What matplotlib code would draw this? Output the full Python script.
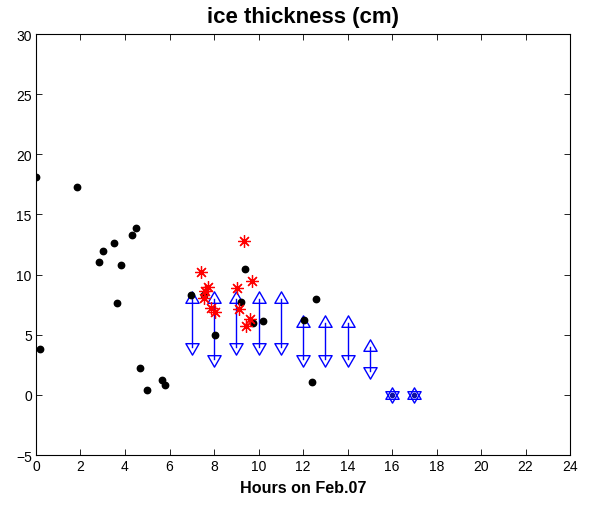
import matplotlib
matplotlib.use("Agg")
import matplotlib.pyplot as plt
from matplotlib.path import Path
import numpy as np

plt.rcParams['font.family'] = ['Liberation Sans', 'DejaVu Sans']

# Point measurements of ice thickness (black dots)
obs_hours = [0.0, 0.18, 1.85, 2.84, 3.02, 3.51, 3.65, 3.83, 4.32, 4.5,
             4.68, 5.0, 5.68, 5.8, 6.98, 7.57, 8.06, 9.23, 9.4, 9.74,
             10.22, 12.03, 12.4, 12.57]
obs_thick = [18.1, 3.8, 17.3, 11.05, 12.0, 12.6, 7.6, 10.8, 13.3, 13.9,
             2.2, 0.4, 1.2, 0.85, 8.3, 8.3, 5.0, 7.7, 10.45, 5.95,
             6.15, 6.26, 1.1, 8.0]

# Second set of measurements (red asterisks)
star_hours = [9.37, 7.43, 9.7, 7.75, 7.6, 7.53, 9.04, 7.87, 8.04, 9.11,
              9.6, 9.42]
star_thick = [12.8, 10.2, 9.5, 8.95, 8.65, 8.05, 8.87, 7.26, 6.93, 7.15,
              6.3, 5.76]

# Estimated thickness ranges (blue double arrows)
range_hours = [7, 8, 9, 10, 11, 12, 13, 14, 15, 16, 17]
range_high = [8, 8, 8, 8, 8, 6, 6, 6, 4, 0, 0]
range_low = [4, 3, 4, 4, 4, 3, 3, 3, 2, 0, 0]

x_ticks = list(range(0, 25, 2))
y_ticks = list(range(-5, 31, 5))

# Equilateral triangles centred on their centroid
s3 = np.sqrt(3) / 2
tri_up = Path([(0, 1), (-s3, -0.5), (s3, -0.5), (0, 1)],
              [Path.MOVETO, Path.LINETO, Path.LINETO, Path.CLOSEPOLY])
tri_down = Path([(0, -1), (-s3, 0.5), (s3, 0.5), (0, -1)],
                [Path.MOVETO, Path.LINETO, Path.LINETO, Path.CLOSEPOLY])

fig = plt.figure(figsize=(5.95, 5.06), dpi=100)
ax = fig.add_axes([0.0605, 0.0988, 0.8975, 0.8320])

for h, hi, lo in zip(range_hours, range_high, range_low):
    ax.plot([h, h], [lo, hi], color='blue', lw=1.0, zorder=2)
    ax.plot(h, hi, marker=tri_up, ms=11, mfc='none', mec='blue', mew=1.0,
            zorder=3)
    ax.plot(h, lo, marker=tri_down, ms=11, mfc='none', mec='blue', mew=1.0,
            zorder=3)
    if hi == lo:
        ax.plot(h, hi, marker='o', ms=3, color='#1010a0', zorder=4)

ax.plot(obs_hours, obs_thick, linestyle='none', marker='o', ms=4.6,
        color='black', zorder=4)
ax.plot(star_hours, star_thick, linestyle='none', marker=(8, 2, 0), ms=9,
        mec='red', mew=0.9, zorder=5)

ax.set_xlim(0, 24)
ax.set_ylim(-5, 30)
ax.set_xticks(x_ticks)
ax.set_yticks(y_ticks)
ax.tick_params(direction='in', top=True, right=True, length=4, width=0.6,
               labelsize=10, pad=3)
for s in ax.spines.values():
    s.set_linewidth(0.8)

ax.set_title('ice thickness (cm)', fontsize=16, fontweight='bold', pad=9)
ax.set_xlabel('Hours on Feb.07', fontsize=11.6, fontweight='bold', labelpad=5)

fig.savefig('out.png', dpi=100)
